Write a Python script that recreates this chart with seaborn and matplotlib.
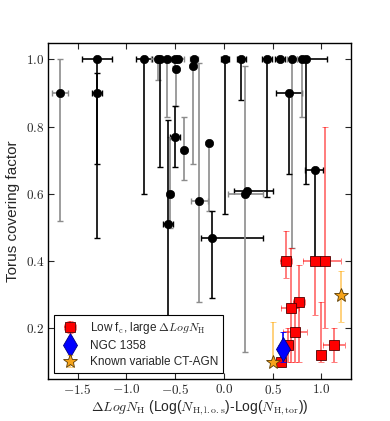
import seaborn as sns
import matplotlib.pyplot as plt
import matplotlib.ticker as mticker
import pandas as pd

# black points: x, y, x errors (low, high), y errors (low, high), bar colour
bx = [-1.68, -1.30, -1.30, -0.82, -0.68, -0.65, -0.58, -0.50, -0.47, -0.49,
      -0.31, -0.32, -0.50, -0.41, -0.15, -0.55, -0.57, -0.25, -0.12, 0.01,
      0.18, 0.24, 0.22, 0.44, 0.575, 0.70, 0.67, 0.80, 0.84, 0.93]
by = [0.90, 1.00, 0.90, 1.00, 1.00, 1.00, 1.00, 1.00, 1.00, 0.97,
      1.00, 0.98, 0.77, 0.73, 0.75, 0.60, 0.51, 0.58, 0.47, 1.00,
      1.00, 0.61, 0.60, 1.00, 1.00, 1.00, 0.90, 1.00, 1.00, 0.67]
bxlo = [0.08, 0.15, 0.05, 0.08, 0.07, 0.05, 0.05, 0.04, 0.06, 0.00,
        0.04, 0.00, 0.05, 0.00, 0.00, 0.03, 0.05, 0.09, 0.11, 0.04,
        0.05, 0.14, 0.18, 0.05, 0.05, 0.05, 0.14, 0.05, 0.05, 0.10]
bxhi = [0.08, 0.15, 0.05, 0.08, 0.05, 0.05, 0.05, 0.04, 0.06, 0.00,
        0.04, 0.00, 0.05, 0.00, 0.00, 0.03, 0.05, 0.09, 0.52, 0.04,
        0.05, 0.26, 0.18, 0.05, 0.05, 0.05, 0.13, 0.05, 0.22, 0.09]
bylo = [0.38, 0.31, 0.43, 0.40, 0.06, 0.32, 0.17, 0.02, 0.00, 0.11,
        0.00, 0.29, 0.09, 0.09, 0.20, 0.10, 0.29, 0.30, 0.18, 0.46,
        0.12, 0.00, 0.47, 0.41, 0.00, 0.56, 0.24, 0.17, 0.37, 0.27]
byhi = [0.10, 0.00, 0.06, 0.00, 0.00, 0.00, 0.00, 0.00, 0.00, 0.00,
        0.00, 0.00, 0.09, 0.10, 0.00, 0.17, 0.31, 0.41, 0.08, 0.00,
        0.00, 0.00, 0.38, 0.00, 0.00, 0.00, 0.00, 0.00, 0.00, 0.00]
bcol = ["0.55", "k", "k", "k", "0.55", "k", "0.55", "0.55", "0.55", "0.55",
        "0.55", "0.55", "k", "0.55", "0.55", "0.55", "k", "0.55", "k", "k",
        "k", "k", "0.55", "k", "k", "0.55", "k", "0.55", "k", "k"]

# low covering factor, large delta NH (red squares)
rx = [0.64, 0.93, 1.04, 0.77, 0.69, 0.73, 0.66, 0.59, 1.00, 1.13]
ry = [0.40, 0.40, 0.40, 0.28, 0.26, 0.19, 0.15, 0.10, 0.12, 0.15]
rxlo = [0.06, 0.12, 0.04, 0.06, 0.10, 0.12, 0.05, 0.03, 0.03, 0.11]
rxhi = [0.06, 0.12, 0.16, 0.06, 0.08, 0.12, 0.05, 0.03, 0.03, 0.11]
rylo = [0.05, 0.16, 0.20, 0.18, 0.16, 0.09, 0.05, 0.00, 0.02, 0.05]
ryhi = [0.09, 0.00, 0.40, 0.11, 0.18, 0.07, 0.05, 0.05, 0.16, 0.05]

# NGC 1358
nx = [0.61]
ny = [0.14]
nylo = [0.04]
nyhi = [0.05]

# known variable CT-AGN
sx = [0.50, 1.20]
sy = [0.10, 0.30]
sylo = [0.00, 0.08]
syhi = [0.12, 0.07]

xticks = [-1.5, -1.0, -0.5, 0.0, 0.5, 1.0]
yticks = [0.2, 0.4, 0.6, 0.8, 1.0]

sns.set_style("ticks")
plt.rcParams["font.family"] = ["Liberation Sans", "DejaVu Sans"]
plt.rcParams["mathtext.fontset"] = "cm"

df = pd.DataFrame({"x": bx, "y": by})

fig = plt.figure(figsize=(3.9, 4.21), dpi=100)
ax = fig.add_axes([0.124, 0.100, 0.775, 0.799])

for i in range(len(bx)):
    ax.errorbar(bx[i], by[i], xerr=[[bxlo[i]], [bxhi[i]]],
                yerr=[[bylo[i]], [byhi[i]]], fmt="none", ecolor=bcol[i],
                elinewidth=1.2, capsize=2.5, capthick=1.0, zorder=2)
sns.scatterplot(data=df, x="x", y="y", color="k", s=36, edgecolor="k",
                linewidth=0.5, ax=ax, zorder=3)

ax.errorbar(rx, ry, xerr=[rxlo, rxhi], yerr=[rylo, ryhi], fmt="s",
            ms=7, mfc="red", mec="#500000", mew=0.6, ecolor=(1, 0, 0, 0.6),
            elinewidth=1.2, capsize=2.5, capthick=1.0, zorder=4,
            label=r"Low f$_{\rm c}$, large $\Delta LogN_{\rm H}$")
ax.errorbar(nx, ny, yerr=[nylo, nyhi], fmt="d", ms=12, mfc="blue",
            mec="#000080", mew=0.6, ecolor="blue", elinewidth=1.2,
            capsize=2.5, zorder=5, label="NGC 1358")
ax.errorbar(sx, sy, yerr=[sylo, syhi], fmt="*", ms=10, mfc="#f5a31a",
            mec="#5a3a00", mew=0.6, ecolor=(1, 0.65, 0, 0.6), elinewidth=1.2,
            capsize=2.5, zorder=5, label="Known variable CT-AGN")

ax.set_xlim(-1.8, 1.3)
ax.set_ylim(0.05, 1.05)
ax.set_xticks(xticks)
ax.set_yticks(yticks)
fmt = mticker.FuncFormatter(lambda v, p: r"$%.1f$" % v)
ax.xaxis.set_major_formatter(fmt)
ax.yaxis.set_major_formatter(fmt)
ax.tick_params(direction="in", top=True, right=True, length=4, width=0.8,
               labelsize=9.5, pad=3)
for s in ax.spines.values():
    s.set_linewidth(1.0)
    s.set_color("k")

ax.set_xlabel(r"$\Delta LogN_{\rm H}$ (Log($N_{\rm H,l.o.s}$)-Log($N_{\rm H,tor}$))",
              fontsize=10, labelpad=1)
ax.set_ylabel("Torus covering factor", fontsize=11, labelpad=4)

leg = ax.legend(loc="lower left", numpoints=1, fontsize=8.5, fancybox=False,
                edgecolor="k", framealpha=1, labelspacing=0.35,
                handlelength=1.8, borderpad=0.4)
leg.get_frame().set_linewidth(0.8)

fig.savefig("out.png", dpi=100)
